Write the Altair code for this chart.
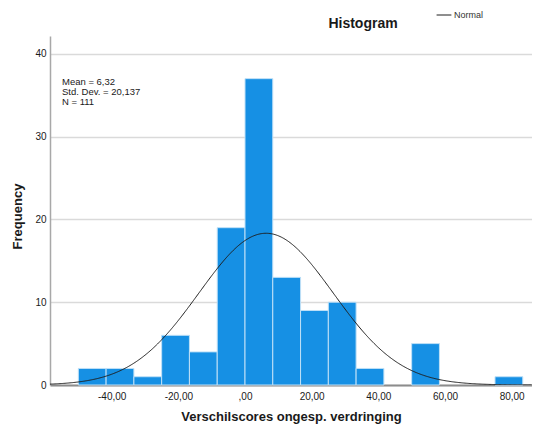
import pandas as pd
import altair as alt

# ── data ────────────────────────────────────────────────────────────────────

BIN_EDGES = [-50.0, -41.67, -33.33, -25.0, -16.67, -8.33, 0.0, 8.33, 16.67,
             25.0, 33.33, 41.67, 50.0, 58.33, 66.67, 75.0, 83.33]
COUNTS    = [2, 2, 1, 6, 4, 19, 37, 13, 9, 10, 2, 0, 5, 0, 0, 1]

MEAN  = 6.32
SD    = 20.137
N     = 111
BIN_W = 25 / 3

X_TICKS  = [-40, -20, 0, 20, 40, 60, 80]
X_LABELS = ["-40,00", "-20,00", ",00", "20,00", "40,00", "60,00", "80,00"]
Y_TICKS  = [0, 10, 20, 30, 40]

STATS_TEXT = ["Mean = 6,32", "Std. Dev. = 20,137", "N = 111"]

# ── styling ─────────────────────────────────────────────────────────────────

BAR_FILL   = "#1690E4"
BAR_STROKE = "#BFE0F7"
CURVE      = "#1E1E1E"
GRID       = "#DADADA"
AXIS_LINE  = "#A8A8A8"
TEXT       = "#1A1A1A"
FONT       = "Liberation Sans"

X_DOMAIN = [-58.5, 86.1]
Y_DOMAIN = [0, 42.15]

bars_df = pd.DataFrame({
    "start": BIN_EDGES[:-1],
    "end":   BIN_EDGES[1:],
    "count": COUNTS,
})
bars_df = bars_df[bars_df["count"] > 0]

label_expr = " : ".join(
    f"datum.value == {v} ? '{lab}'" for v, lab in zip(X_TICKS, X_LABELS)
) + " : ''"

x_scale = alt.Scale(domain=X_DOMAIN, nice=False, zero=False)
y_scale = alt.Scale(domain=Y_DOMAIN, nice=False)

bars = (
    alt.Chart(bars_df)
    .mark_rect(fill=BAR_FILL, stroke=BAR_STROKE, strokeWidth=1)
    .encode(
        x=alt.X(
            "start:Q",
            scale=x_scale,
            title="Verschilscores ongesp. verdringing",
            axis=alt.Axis(
                values=X_TICKS,
                labelExpr=label_expr,
                grid=False,
                ticks=False,
                labelPadding=6,
                labelFontSize=10,
                labelColor=TEXT,
                titleFontSize=13,
                titleFontWeight="bold",
                titleColor=TEXT,
                titlePadding=9,
                domainColor="#8C8C8C",
                domainWidth=2,
            ),
        ),
        x2="end:Q",
        y=alt.Y(
            "count:Q",
            scale=y_scale,
            title="Frequency",
            axis=alt.Axis(
                values=Y_TICKS,
                grid=True,
                gridColor=GRID,
                gridWidth=1.5,
                ticks=False,
                labelPadding=4,
                labelFontSize=10,
                labelColor=TEXT,
                titleFontSize=13,
                titleFontWeight="bold",
                titleColor=TEXT,
                titleX=-33,
                titleY=180,
                titleBaseline="middle",
                domainColor=AXIS_LINE,
                domainWidth=1.5,
            ),
        ),
        y2=alt.datum(0),
    )
)

# fitted normal curve, evaluated by Vega from the reported mean, SD and N
curve = (
    alt.Chart(alt.sequence(X_DOMAIN[0], X_DOMAIN[1], 0.25, as_="v"))
    .transform_calculate(
        freq=f"{N * BIN_W} * densityNormal(datum.v, {MEAN}, {SD})"
    )
    .mark_line(strokeWidth=1, clip=True)
    .encode(
        x=alt.X("v:Q", scale=x_scale),
        y=alt.Y("freq:Q", scale=y_scale),
        color=alt.Color(
            "series:N",
            scale=alt.Scale(domain=["Normal"], range=[CURVE]),
            legend=alt.Legend(
                title=None,
                orient="none",
                legendX=386,
                legendY=-29,
                symbolType="stroke",
                symbolSize=220,
                symbolStrokeWidth=1,
                labelFontSize=9,
                labelColor="#333333",
                labelFont=FONT,
                labelOffset=2,
                padding=0,
            ),
        ),
    )
    .transform_calculate(series="'Normal'")
)

stats = (
    alt.Chart(pd.DataFrame({"lines": [STATS_TEXT]}))
    .mark_text(align="left", baseline="top", fontSize=9.5, lineHeight=10,
               color=TEXT, font=FONT)
    .encode(x=alt.value(12), y=alt.value(41), text="lines")
)

chart = (
    alt.layer(bars, curve, stats)
    .properties(
        width=482,
        height=349,
        padding={"left": 42, "top": 28, "right": 0, "bottom": 39},
        autosize=alt.AutoSizeParams(type="none"),
        title=alt.TitleParams(
            "Histogram",
            anchor="middle",
            frame="group",
            dx=72,
            dy=29,
            offset=5,
            fontSize=14,
            fontWeight="bold",
            color=TEXT,
            font=FONT,
        ),
    )
    .configure(font=FONT, background="white")
    .configure_view(strokeWidth=0)
    .configure_axis(labelFont=FONT, titleFont=FONT)
)

chart.save("out.html", embed_options={"renderer": "svg", "actions": False})
